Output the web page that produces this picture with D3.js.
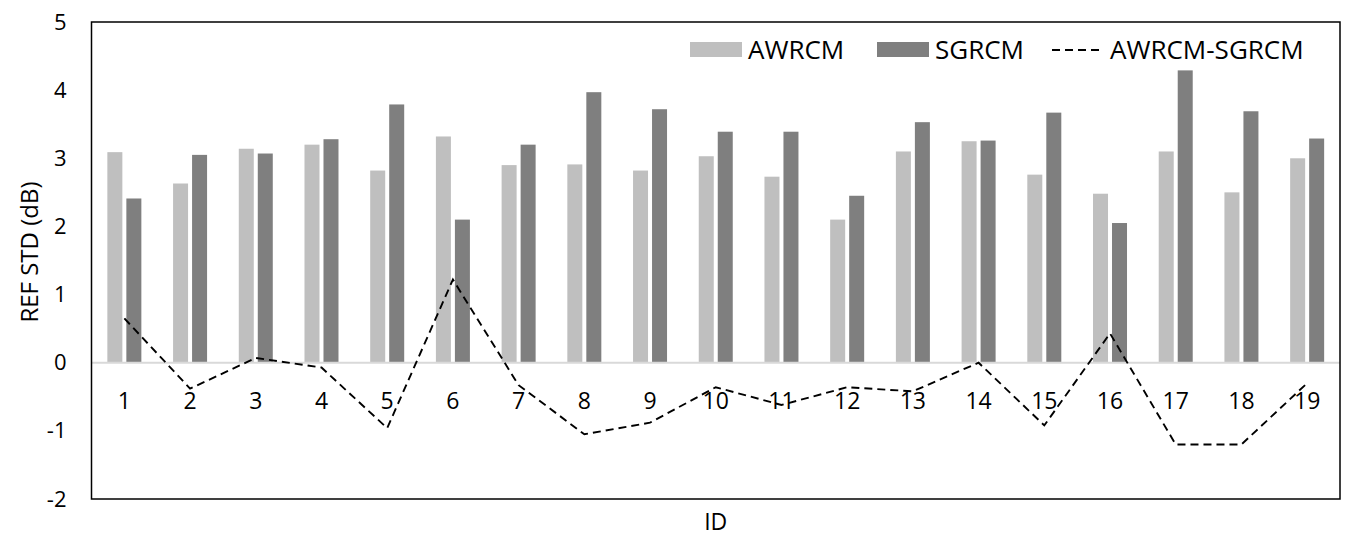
<!DOCTYPE html>
<html>
<head>
<meta charset="utf-8">
<script src="https://cdn.jsdelivr.net/npm/d3@7"></script>
<style>
  body { margin: 0; background: #fff; }
  svg text { font-family: "Open Sans", "DejaVu Sans", sans-serif; fill: #000; }
</style>
</head>
<body>
<div id="vis"></div>
<script>
// values
var ids = ["1","2","3","4","5","6","7","8","9","10","11","12","13","14","15","16","17","18","19"];
var awrcm = [3.09, 2.63, 3.14, 3.20, 2.82, 3.32, 2.90, 2.91, 2.82, 3.03, 2.73, 2.10, 3.10, 3.25, 2.76, 2.48, 3.10, 2.50, 3.00];
var sgrcm = [2.41, 3.05, 3.07, 3.28, 3.79, 2.10, 3.20, 3.97, 3.72, 3.39, 3.39, 2.45, 3.53, 3.26, 3.67, 2.05, 4.29, 3.69, 3.29];
var diff  = [0.65, -0.38, 0.07, -0.07, -0.96, 1.22, -0.33, -1.05, -0.88, -0.36, -0.62, -0.36, -0.42, 0.00, -0.92, 0.43, -1.20, -1.20, -0.30];
var yTicks = [-2, -1, 0, 1, 2, 3, 4, 5];
var seriesNames = ["AWRCM", "SGRCM", "AWRCM-SGRCM"];

var W = 1354, H = 544;
var plot = {left: 91.5, right: 1340, top: 22, bottom: 499};
var colors = {AWRCM: "#bfbfbf", SGRCM: "#7f7f7f"};

var svg = d3.select("#vis").append("svg")
  .attr("width", W).attr("height", H);

var x = d3.scaleBand()
  .domain(ids)
  .range([plot.left, plot.right])
  .paddingInner(0).paddingOuter(0);

var x1 = d3.scaleBand()
  .domain(["AWRCM", "SGRCM"])
  .range([0, 34])
  .paddingInner(4 / 19);

var y = d3.scaleLinear()
  .domain([-2, 5])
  .range([plot.bottom, plot.top]);

var cx = id => x(id) + x.bandwidth() / 2;

// bars
var bars = [
  {name: "AWRCM", vals: awrcm},
  {name: "SGRCM", vals: sgrcm}
];
bars.forEach(s => {
  svg.append("g").selectAll("rect")
    .data(s.vals)
    .join("rect")
    .attr("x", (d, i) => cx(ids[i]) - 17 + x1(s.name))
    .attr("width", x1.bandwidth())
    .attr("y", d => y(Math.max(0, d)))
    .attr("height", d => Math.abs(y(d) - y(0)))
    .attr("fill", colors[s.name]);
});

// zero line
svg.append("line")
  .attr("x1", plot.left).attr("x2", plot.right)
  .attr("y1", y(0)).attr("y2", y(0))
  .attr("stroke", "#d9d9d9").attr("stroke-width", 2);

// frame
svg.append("rect")
  .attr("x", plot.left).attr("y", plot.top)
  .attr("width", plot.right - plot.left)
  .attr("height", plot.bottom - plot.top)
  .attr("fill", "none")
  .attr("stroke", "#000").attr("stroke-width", 1.5);

// y axis labels (plain hyphen minus, as in the original)
var yAxis = d3.axisLeft(y)
  .tickValues(yTicks)
  .tickSize(0).tickPadding(25)
  .tickFormat(d => String(d));
var gy = svg.append("g")
  .attr("transform", "translate(" + plot.left + ",0)")
  .call(yAxis);
gy.select(".domain").remove();
gy.selectAll("text")
  .style("font-family", "'Open Sans', sans-serif")
  .style("font-size", "22px");

// category labels below the zero line
svg.append("g").selectAll("text")
  .data(ids)
  .join("text")
  .attr("x", d => cx(d))
  .attr("y", y(0) + 46)
  .attr("text-anchor", "middle")
  .style("font-size", "23px")
  .text(d => d);

// difference line
svg.append("path")
  .datum(diff)
  .attr("fill", "none")
  .attr("stroke", "#000")
  .attr("stroke-width", 1.9)
  .attr("stroke-dasharray", "8,5")
  .attr("d", d3.line()
    .x((d, i) => cx(ids[i]))
    .y(d => y(d)));

// axis titles
svg.append("text")
  .attr("transform", "translate(30,252) rotate(-90)")
  .attr("text-anchor", "middle")
  .attr("dy", "0.35em")
  .style("font-size", "24px")
  .text("REF STD (dB)");

svg.append("text")
  .attr("x", (plot.left + plot.right) / 2)
  .attr("y", 530)
  .attr("text-anchor", "middle")
  .style("font-size", "23px")
  .text("ID");

// legend
var lg = svg.append("g").attr("transform", "translate(0,50)");
var legendItems = [
  {name: seriesNames[0], x: 690, type: "bar"},
  {name: seriesNames[1], x: 877, type: "bar"},
  {name: seriesNames[2], x: 1052, type: "line"}
];
legendItems.forEach(it => {
  if (it.type === "bar") {
    lg.append("rect")
      .attr("x", it.x).attr("y", -8)
      .attr("width", 52).attr("height", 15)
      .attr("fill", colors[it.name]);
  } else {
    lg.append("line")
      .attr("x1", it.x).attr("x2", it.x + 50)
      .attr("y1", 0).attr("y2", 0)
      .attr("stroke", "#000").attr("stroke-width", 1.9)
      .attr("stroke-dasharray", "8,5");
  }
  lg.append("text")
    .attr("x", it.x + 58)
    .attr("y", 0)
    .attr("dy", "0.35em")
    .style("font-size", "26px")
    .text(it.name);
});
</script>
</body>
</html>
